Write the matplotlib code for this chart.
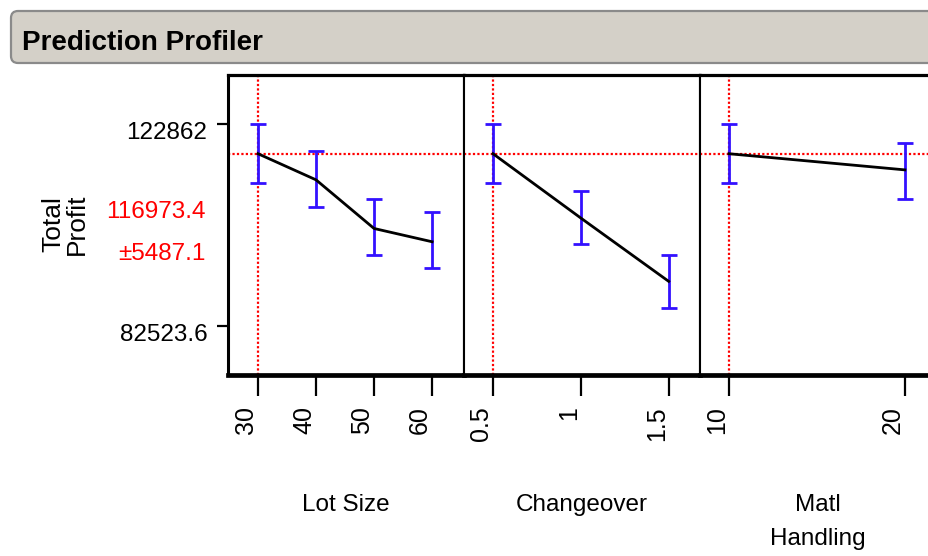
import matplotlib
matplotlib.use('Agg')
import matplotlib.pyplot as plt
from matplotlib.patches import FancyBboxPatch
from matplotlib.transforms import ScaledTranslation

plt.rcParams['font.family'] = ['Liberation Sans', 'DejaVu Sans']

# profile values
lot_size = [30, 40, 50, 60]
lot_pred = [116973.4, 111760, 102050, 99400]
lot_lo = [111100, 106320, 96750, 94080]
lot_hi = [122862, 117540, 107975, 105320]

changeover = [0.5, 1, 1.5]
chg_pred = [116973.4, 104130, 91490]
chg_lo = [111100, 98870, 86190]
chg_hi = [122862, 109570, 96810]

matl = [10, 20]
matl_pred = [116973.4, 113750]
matl_lo = [111100, 107915]
matl_hi = [122862, 119075]

current = [30, 0.5, 10]
y_current = 116973.4
y_pm = 5487.1
y_ticks = [82523.6, 122862]
y_ticklabels = ['82523.6', '122862']

x_ticks = [[30, 40, 50, 60], [0.5, 1, 1.5], [10, 20]]
x_ticklabels = [['30', '40', '50', '60'], ['0.5', '1', '1.5'], ['10', '20']]
x_names = ['Lot Size', 'Changeover', 'Matl\nHandling']
x_limits = [(24.83, 65.5), (0.335, 1.678), (8.35, 21.77)]
y_limits = (72900, 132790)

W, H = 929, 556
fig = plt.figure(figsize=(W / 100, H / 100), dpi=100)

# header bar
hdr = FancyBboxPatch((0.11, (H - 63) / 100), 9.4, 0.52,
                     boxstyle='round,pad=0,rounding_size=0.07',
                     transform=fig.dpi_scale_trans, facecolor='#d4d0c8',
                     edgecolor='#8a8a8a', linewidth=1.6, clip_on=False)
fig.patches.append(hdr)
fig.text(22 / W, 1 - 50 / H, 'Prediction Profiler', fontsize=20,
         fontweight='bold', ha='left', va='baseline')

series = [(lot_size, lot_pred, lot_lo, lot_hi),
          (changeover, chg_pred, chg_lo, chg_hi),
          (matl, matl_pred, matl_lo, matl_hi)]
lefts = [228, 464, 700]
pw = 236
top, bottom = 74.5, 374.5
dots = (0, (1, 1))

for i, (xs, ys, lo, hi) in enumerate(series):
    ax = fig.add_axes([lefts[i] / W, 1 - bottom / H, pw / W, (bottom - top) / H])
    err = [[y - l for y, l in zip(ys, lo)], [h - y for y, h in zip(ys, hi)]]
    ax.axhline(y_current, color='red', lw=1.6, ls=dots, zorder=1)
    ax.axvline(current[i], color='red', lw=1.6, ls=dots, zorder=1)
    ax.errorbar(xs, ys, yerr=err, fmt='none', ecolor='#3311ff', elinewidth=2,
                capsize=6, capthick=2, zorder=2)
    ax.plot(xs, ys, color='black', lw=2, zorder=3)
    ax.set_xlim(*x_limits[i])
    ax.set_ylim(*y_limits)
    ax.set_xticks(x_ticks[i])
    ax.set_xticklabels(x_ticklabels[i], rotation=90, fontsize=18, ha='right')
    ax.tick_params(axis='x', length=15, width=1.6, pad=8, direction='out')
    ax.spines['top'].set_linewidth(2.3)
    ax.spines['bottom'].set_linewidth(3.4)
    ax.spines['right'].set_linewidth(1.5)
    ax.spines['left'].set_linewidth(2.2 if i == 0 else 1.5)
    if i == 2:
        ax.spines['right'].set_visible(False)
    if i == 0:
        ax.set_yticks(y_ticks)
        ax.set_yticklabels(y_ticklabels, fontsize=17.5)
        ax.tick_params(axis='y', length=8, width=1.6, pad=7)
        shift = ScaledTranslation(0, -0.06, fig.dpi_scale_trans)
        for lab in ax.get_yticklabels():
            lab.set_transform(lab.get_transform() + shift)
    else:
        ax.set_yticks([])
    fig.text((lefts[i] + pw / 2) / W, 1 - (505 if i < 2 else 522) / H,
             x_names[i], fontsize=17.5, ha='center', va='center', linespacing=1.65)

fig.text(65 / W, 1 - 224 / H, 'Total\nProfit', rotation=90, fontsize=19,
         ha='center', va='center', linespacing=1.0)
fig.text(206 / W, 1 - 212 / H, f'{y_current}', color='red', fontsize=17.5,
         ha='right', va='center')
fig.text(206 / W, 1 - 254 / H, f'\u00b1{y_pm}', color='red', fontsize=17.5,
         ha='right', va='center')

fig.savefig('out.png', dpi=100)
